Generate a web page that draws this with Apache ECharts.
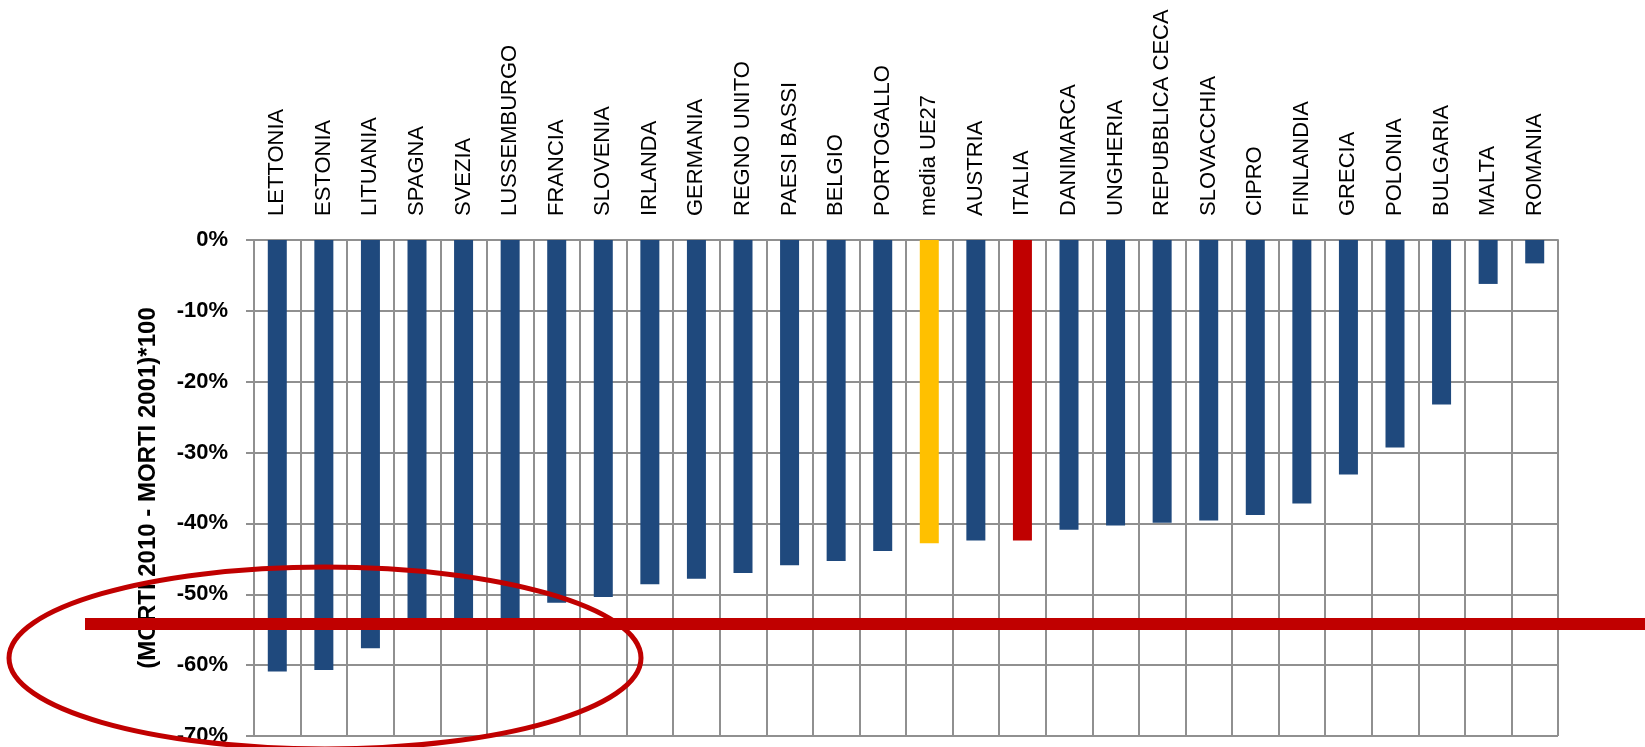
<!DOCTYPE html>
<html>
<head>
<meta charset="utf-8">
<script src="https://cdn.jsdelivr.net/npm/echarts@6/dist/echarts.min.js"></script>
<style>
  html, body { margin: 0; padding: 0; background: #ffffff; }
  #chart { width: 1645px; height: 747px; }
</style>
</head>
<body>
<div id="chart"></div>
<script>
// Variazione percentuale dei morti per incidente stradale, 2001-2010
const countries = [
  'LETTONIA', 'ESTONIA', 'LITUANIA', 'SPAGNA', 'SVEZIA', 'LUSSEMBURGO', 'FRANCIA',
  'SLOVENIA', 'IRLANDA', 'GERMANIA', 'REGNO UNITO', 'PAESI BASSI', 'BELGIO',
  'PORTOGALLO', 'media UE27', 'AUSTRIA', 'ITALIA', 'DANIMARCA', 'UNGHERIA',
  'REPUBBLICA CECA', 'SLOVACCHIA', 'CIPRO', 'FINLANDIA', 'GRECIA', 'POLONIA',
  'BULGARIA', 'MALTA', 'ROMANIA'
];
const deathChange = [
  -60.9, -60.7, -57.6, -54.6, -54.4, -54.2, -51.2,
  -50.4, -48.6, -47.8, -47.0, -45.9, -45.3,
  -43.9, -42.8, -42.4, -42.4, -40.9, -40.3,
  -39.9, -39.6, -38.8, -37.2, -33.1, -29.3,
  -23.2, -6.2, -3.3
];
const yMin = -70;
const yMax = 0;
const yStep = 10;
const yTitle = '(MORTI 2010 - MORTI 2001)*100';

// Obiettivo di riduzione evidenziato dalla linea rossa orizzontale
const targetLevel = -54.2;

const barBlue = '#1F497D';
const highlightColors = { 'media UE27': '#FFC000', 'ITALIA': '#C00000' };
const gridGray = '#909090';
const accentRed = '#C00000';
const font = "'Liberation Sans', Arial, sans-serif";

const chart = echarts.init(document.getElementById('chart'), null, { renderer: 'canvas' });

chart.setOption({
  animation: false,
  backgroundColor: '#ffffff',
  grid: { left: 254, right: 87, top: 240, bottom: 11, containLabel: false },
  xAxis: {
    type: 'category',
    position: 'top',
    data: countries,
    boundaryGap: true,
    axisLine: { show: true, lineStyle: { color: gridGray, width: 2 } },
    axisTick: { show: false },
    axisLabel: {
      interval: 0,
      rotate: 90,
      margin: 24,
      color: '#000000',
      fontFamily: font,
      fontSize: 22
    },
    splitLine: { show: true, interval: 0, lineStyle: { color: gridGray, width: 2 } }
  },
  yAxis: {
    type: 'value',
    min: yMin,
    max: yMax,
    interval: yStep,
    name: yTitle,
    nameLocation: 'middle',
    nameRotate: 90,
    nameGap: 94,
    nameTextStyle: { color: '#000000', fontFamily: font, fontSize: 24, fontWeight: 'bold' },
    axisLine: { show: true, lineStyle: { color: gridGray, width: 2 } },
    axisTick: { show: true, length: 8, lineStyle: { color: gridGray, width: 2 } },
    axisLabel: {
      formatter: '{value}%',
      margin: 26,
      color: '#000000',
      fontFamily: font,
      fontSize: 22,
      fontWeight: 'bold'
    },
    splitLine: { show: true, lineStyle: { color: gridGray, width: 2 } }
  },
  series: [{
    type: 'bar',
    barWidth: 19,
    data: deathChange.map((v, i) => ({
      value: v,
      itemStyle: { color: highlightColors[countries[i]] || barBlue }
    }))
  }]
});

// Linea dell'obiettivo e cerchiatura dei paesi migliori
const targetY = chart.convertToPixel({ yAxisIndex: 0 }, targetLevel);
chart.setOption({
  graphic: [
    {
      type: 'line',
      z: 100,
      shape: { x1: 85, y1: targetY, x2: 1645, y2: targetY },
      style: { stroke: accentRed, lineWidth: 12 }
    },
    {
      type: 'ellipse',
      z: 101,
      shape: { cx: 325, cy: 658, rx: 316, ry: 91 },
      style: { fill: 'none', stroke: accentRed, lineWidth: 5 }
    }
  ]
});
</script>
</body>
</html>
